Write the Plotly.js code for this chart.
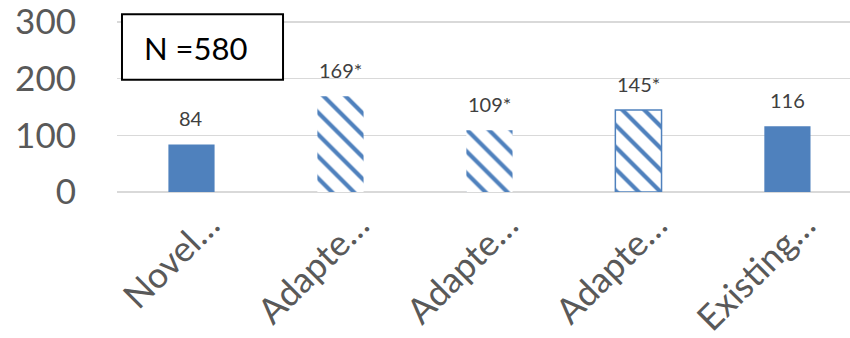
<!DOCTYPE html>
<html>
<head>
<meta charset="utf-8">
<script src="https://cdn.plot.ly/plotly-3.0.1.min.js"></script>
<style>
  html, body { margin: 0; padding: 0; background: #ffffff; overflow: hidden; }
  #chart { width: 850px; height: 338px; }
</style>
</head>
<body>
<div id="chart"></div>
<script>
// Category names (truncated as shown on the axis)
const categories = ["Novel…", "Adapte…", "Adapte…", "Adapte…", "Existing…"];
// Counts per category
const counts = [84, 169, 109, 145, 116];
// Data labels shown above bars
const barLabels = ["84", "169*", "109*", "145*", "116"];
// Hatch pattern per bar ("" = solid fill)
const hatch = ["", "\\", "\\", "\\", ""];
// Y axis tick values
const yTicks = [0, 100, 200, 300];
// Sample size caption
const sampleNote = "N =580";

const blue = "#4f81bd";
const fontFamily = "Lato, 'Open Sans', sans-serif";
const positions = categories.map((_, i) => i);

const trace = {
  type: "bar",
  x: positions,
  y: counts,
  width: 0.31,
  hoverinfo: "skip",
  marker: {
    color: blue,
    line: { color: blue, width: [0, 0, 0, 1.5, 0] },
    pattern: {
      shape: hatch,
      fgcolor: blue,
      bgcolor: "#ffffff",
      size: 15.5,
      solidity: 0.27,
      fillmode: "replace"
    }
  }
};

// value labels above each bar
const annotations = positions.map((p, i) => ({
  x: p,
  y: counts[i],
  xref: "x",
  yref: "y",
  text: barLabels[i],
  showarrow: false,
  yanchor: "bottom",
  yshift: 12,
  font: { family: fontFamily, size: 20, color: "#404040" }
}));

// rotated category labels under the axis
positions.forEach((p, i) => {
  annotations.push({
    x: p,
    y: 0,
    xref: "x",
    yref: "paper",
    text: categories[i],
    showarrow: false,
    textangle: -45,
    xanchor: "right",
    yanchor: "top",
    xshift: 39,
    yshift: -8,
    font: { family: fontFamily, size: 35.5, color: "#595959" }
  });
});

// sample size caption inside the framed box
annotations.push({
  x: 0.1075,
  y: 0.843,
  xref: "paper",
  yref: "paper",
  text: sampleNote,
  showarrow: false,
  xanchor: "center",
  yanchor: "middle",
  font: { family: fontFamily, size: 31, color: "#000000" }
});

const layout = {
  width: 850,
  height: 338,
  margin: { l: 117, r: 0, t: 20.6, b: 146.3, pad: 0 },
  paper_bgcolor: "#ffffff",
  plot_bgcolor: "#ffffff",
  showlegend: false,
  font: { family: fontFamily, color: "#595959" },
  xaxis: {
    range: [-0.5, 4.42],
    tickmode: "array",
    tickvals: positions,
    ticktext: categories,
    showticklabels: false,
    showgrid: false,
    showline: false,
    zeroline: false,
    ticks: "",
    fixedrange: true
  },
  yaxis: {
    range: [0, 302],
    tickmode: "array",
    tickvals: yTicks,
    ticktext: yTicks.map(String),
    tickfont: { size: 35, color: "#595959" },
    ticklabeloverflow: "allow",
    gridcolor: "#d9d9d9",
    gridwidth: 1.4,
    zeroline: true,
    zerolinecolor: "#d9d9d9",
    zerolinewidth: 1.4,
    showline: false,
    ticks: "",
    ticklabelstandoff: 40,
    fixedrange: true
  },
  shapes: [{
    type: "rect",
    xref: "paper",
    yref: "paper",
    x0: 0.0068,
    x1: 0.2265,
    y0: 0.657,
    y1: 1.04,
    line: { color: "#000000", width: 2 },
    fillcolor: "#ffffff",
    layer: "above"
  }],
  annotations: annotations
};

Plotly.newPlot("chart", [trace], layout, { displayModeBar: false, staticPlot: true });
</script>
</body>
</html>
